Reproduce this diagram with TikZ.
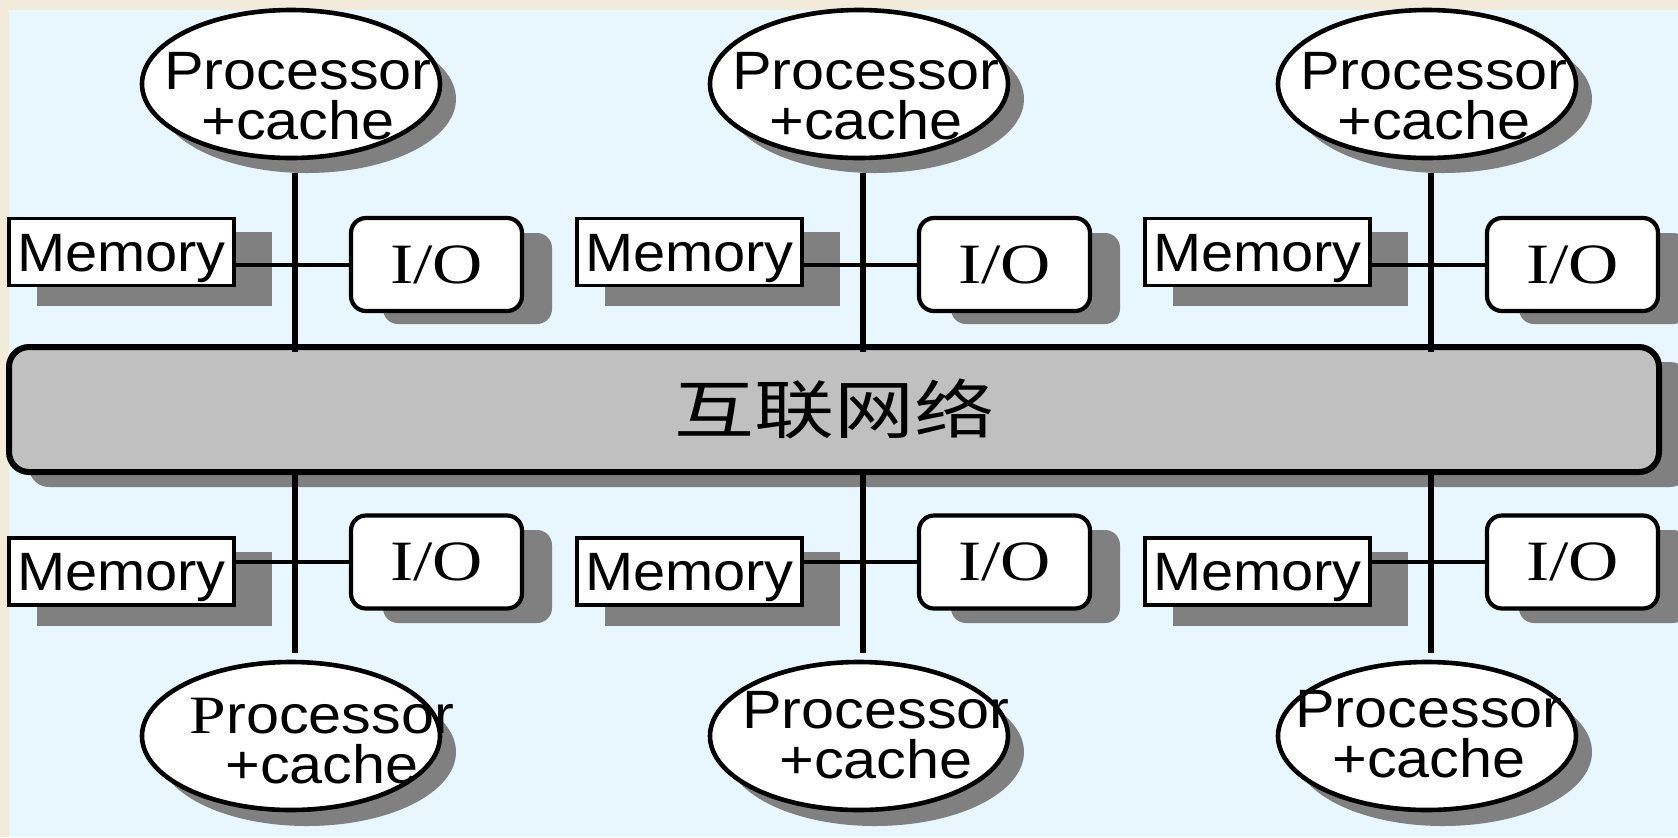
\documentclass[tikz,border=0pt]{standalone}
\usepackage{fontspec}
\newfontfamily\sansf[FakeStretch=1.1]{Liberation Sans}
\newfontfamily\memf[FakeStretch=1.07]{Liberation Sans}
\newfontfamily\serff[FakeStretch=1.22]{Liberation Serif}
\newfontfamily\cjk[FakeStretch=1.25]{Noto Sans CJK SC}
\usetikzlibrary{shapes.geometric,calc}

\definecolor{pagebg}{HTML}{F3EBDA}
\definecolor{panel}{HTML}{E8F6FE}
\definecolor{shadowgray}{HTML}{808080}
\definecolor{busfill}{HTML}{C0C0C0}

\tikzset{
  membox/.style={draw, line width=1.9pt, fill=white, minimum width=112.5pt,
    minimum height=33.5pt, inner sep=0pt, text height=19.3pt, text depth=0pt,
    font=\memf\fontsize{27}{24}\selectfont},
  iobox/.style={draw, line width=2.1pt, fill=white, rounded corners=7.5pt,
    minimum width=85.5pt, minimum height=46.5pt, inner sep=0pt,
    font=\serff\fontsize{28.5}{30}\selectfont},
  cpu/.style={ellipse, draw, line width=2.3pt, fill=white, minimum width=149pt,
    minimum height=74pt, inner sep=0pt},
  cpushade/.style={ellipse, fill=shadowgray, minimum width=149pt, minimum height=74pt, inner sep=0pt},
  cputext/.style={align=center, inner sep=0pt, font=\sansf\fontsize{27}{25}\selectfont},
  busbox/.style={draw, line width=3pt, fill=busfill, rounded corners=10pt,
    minimum width=825pt, minimum height=62.5pt, inner sep=0pt,
    font=\cjk\fontsize{32}{32}\selectfont},
  link/.style={line width=2pt},
  spine/.style={line width=2.9pt},
}

\begin{document}
\begin{tikzpicture}[x=0.5pt, y=-0.5pt]
  \useasboundingbox (0,0) rectangle (1678,837);
  \clip (0,0) rectangle (1678,837);
  % page and panel
  \fill[pagebg] (0,0) rectangle (1678,837);
  \fill[panel] (9,10) rectangle (1678,837);

  % interconnection network
  \fill[shadowgray, rounded corners=10pt] (29,362) rectangle (1690,487);
  \node[busbox] (bus) at (834,409.5) {互联网络};

  % one column: processor, memory and I/O above and below the network
  \foreach \c/\i/\bx/\by/\bt in {295/1/27/741/{{\serff P}rocessor},
                                 863/2/13/735/{Processor},
                                 1431/3/-2/734/{Processor}} {
    \coordinate (ax\i) at (\c,0);
    % upper node
    \node[cpushade] (pst\i) at (\c+12,99) {};
    \node[cpu] (pt\i) at (\c-4,84) {};
    \node[cputext] (ptt\i) at (\c+3,96) {Processor\\+cache};
    \fill[shadowgray] (\c-258,232) rectangle (\c-23,306);
    \node[membox] (mt\i) at (\c-173.5,252) {Memory};
    \fill[shadowgray, rounded corners=7.5pt] (\c+88,233) rectangle (\c+257,324);
    \node[iobox] (iot\i) at (\c+141.5,264.5) {I/O};
    % lower node
    \node[cpushade] (psb\i) at (\c+12,752) {};
    \node[cpu] (pb\i) at (\c-4,736) {};
    \node[cputext] (pbt\i) at (\c+\bx,\by) {\bt\\+cache};
    \fill[shadowgray] (\c-258,552) rectangle (\c-23,626);
    \node[membox] (mb\i) at (\c-173.5,571.5) {Memory};
    \fill[shadowgray, rounded corners=7.5pt] (\c+88,530) rectangle (\c+257,623);
    \node[iobox] (iob\i) at (\c+141.5,562) {I/O};
    % wiring
    \draw[spine] (ax\i |- pst\i.south) -- ([yshift=-4pt]ax\i |- bus.north);
    \draw[spine] ([yshift=2pt]ax\i |- bus.south) -- ([yshift=3.5pt]ax\i |- pb\i.north);
    \draw[link] (iot\i.west) -- (iot\i.west -| mt\i.east);
    \draw[link] (iob\i.west) -- (iob\i.west -| mb\i.east);
  }
\end{tikzpicture}
\end{document}
